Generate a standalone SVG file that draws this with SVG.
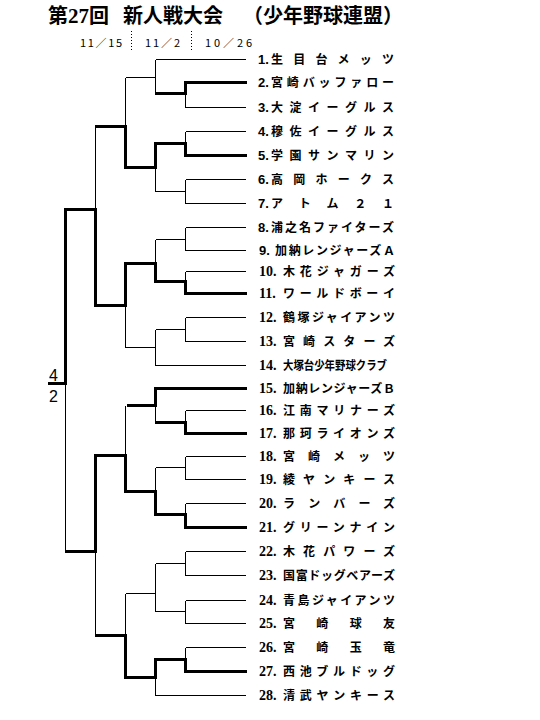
<svg xmlns="http://www.w3.org/2000/svg" width="540" height="720" viewBox="0 0 540 720">
<style>
.thin{fill:none;stroke:#000;stroke-width:1;shape-rendering:crispEdges}
.thick{fill:none;stroke:#000;stroke-width:3;stroke-linecap:square;shape-rendering:crispEdges}
.dot{fill:none;stroke:#000;stroke-width:1;stroke-dasharray:1 2;shape-rendering:crispEdges}
.title{font-family:"Noto Sans CJK JP",sans-serif;font-size:20px;font-weight:bold;fill:#000}
.date{font-family:"Noto Sans CJK JP",sans-serif;font-size:11px;fill:#000}
.n1{font-family:"Liberation Sans",sans-serif;font-size:13px;font-weight:bold;fill:#000}
.n2{font-family:"Liberation Serif",serif;font-size:14px;font-weight:bold;fill:#000}
.nm{font-family:"Noto Sans CJK JP",sans-serif;font-size:12px;font-weight:bold;fill:#000}
.score{font-family:"Liberation Sans",sans-serif;font-size:16px;fill:#000}
</style>
<rect width="540" height="720" fill="#fff"/>
<g id="title">
<text class="title" y="23"><tspan x="48">第</tspan><tspan font-family="Liberation Serif" font-size="21">27</tspan><tspan>回</tspan><tspan x="123">新人戦大会</tspan><tspan x="243">（少年野球連盟）</tspan></text>
</g>
<g id="dates">
<text class="date" x="80" y="47" textLength="42">11／15</text>
<text class="date" x="145" y="47" textLength="35">11／2</text>
<text class="date" x="205" y="47" textLength="47">10／26</text>
<path class="dot" d="M131.5 31V51M191.5 31V51"/>
</g>
<g id="connectors">
<path class="thin" d="M155.5 59.5H246M185.5 107.5H246M185.5 93.5V107.5M155.5 59.5V93.5M125.5 77.5H155.5M125.5 77.5V126.5
M185.5 131.5H246M185.5 131.5V143.5M155.5 167.5V191.5M155.5 191.5H185.5M185.5 179.5H246M185.5 203.5H246M185.5 179.5V203.5
M95.5 126.5V209.5
M185.5 227.5H246M185.5 250.5H246M185.5 227.5V250.5M155.5 239.5H185.5M155.5 239.5V263.5M185.5 271.5H246M185.5 271.5V281.5
M125.5 305.5V347.5M125.5 347.5H155.5M155.5 329.5V365.5M155.5 329.5H185.5M185.5 317.5H246M185.5 341.5H246M185.5 317.5V341.5M155.5 365.5H246
M65.5 383.5V551.5
M155.5 405.5V422.5M185.5 410.5V422.5M185.5 410.5H246M125.5 405.5V455.5M155.5 467.5H185.5M155.5 467.5V491.5M185.5 456.5H246M185.5 479.5H246M185.5 456.5V479.5M185.5 503.5H246M185.5 503.5V514.5
M95.5 551.5V635.5
M185.5 551.5H246M185.5 575.5H246M185.5 551.5V575.5M155.5 563.5H185.5M155.5 563.5V611.5M125.5 593.5H155.5M155.5 611.5H185.5M185.5 600.5H246M185.5 623.5H246M185.5 600.5V623.5M125.5 593.5V635.5M155.5 677.5V695.5M185.5 647.5H246M185.5 647.5V659.5M155.5 695.5H246"/>
<path class="thick" d="M245 82.5H185.5V93.5H156.5"/>
<path class="thick" d="M245 155.5H185.5V143.5H155.5V167.5H125.5V126.5H96.5"/>
<path class="thick" d="M245 293.5H185.5V281.5H155.5V263.5H125.5V305.5H95.5V209.5H65.5V383.5H49"/>
<path class="thick" d="M245 388.5H155.5V405.5H128"/>
<path class="thick" d="M245 433.5H185.5V422.5H156.5"/>
<path class="thick" d="M245 527.5H185.5V514.5H155.5V491.5H125.5V455.5H95.5V551.5H66.5"/>
<path class="thick" d="M245 671.5H185.5V659.5H155.5V677.5H125.5V635.5H96.5"/>
</g>
<g id="score">
<text class="score" x="49" y="381">4</text>
<text class="score" x="49" y="402">2</text>
</g>
<g id="team1"><text class="n1" x="258" y="64">1.</text><text class="nm" x="271" y="64" textLength="123">生目台メッツ</text></g>
<g id="team2"><text class="n1" x="258" y="87">2.</text><text class="nm" x="271" y="87" textLength="123">宮崎バッファロー</text></g>
<g id="team3"><text class="n1" x="258" y="112">3.</text><text class="nm" x="271" y="112" textLength="123">大淀イーグルス</text></g>
<g id="team4"><text class="n1" x="258" y="136">4.</text><text class="nm" x="271" y="136" textLength="123">穆佐イーグルス</text></g>
<g id="team5"><text class="n1" x="258" y="160">5.</text><text class="nm" x="271" y="160" textLength="123">学園サンマリン</text></g>
<g id="team6"><text class="n1" x="258" y="184">6.</text><text class="nm" x="271" y="184" textLength="123">高岡ホークス</text></g>
<g id="team7"><text class="n1" x="258" y="208">7.</text><text class="nm" x="271" y="208" textLength="123">アトム２１</text></g>
<g id="team8"><text class="n1" x="258" y="232">8.</text><text class="nm" x="271" y="232" textLength="123">浦之名ファイターズ</text></g>
<g id="team9"><text class="n1" x="259" y="255">9.</text><text class="nm" x="275" y="255" textLength="120">加納レンジャーズＡ</text></g>
<g id="team10"><text class="n2" x="259" y="276">10.</text><text class="nm" x="283" y="276" textLength="112">木花ジャガーズ</text></g>
<g id="team11"><text class="n2" x="259" y="298">11.</text><text class="nm" x="283" y="298" textLength="112">ワールドボーイ</text></g>
<g id="team12"><text class="n2" x="259" y="322">12.</text><text class="nm" x="283" y="322" textLength="112">鶴塚ジャイアンツ</text></g>
<g id="team13"><text class="n2" x="259" y="346">13.</text><text class="nm" x="283" y="346" textLength="112">宮崎スターズ</text></g>
<g id="team14"><text class="n2" x="259" y="370">14.</text><text class="nm" x="283" y="370" textLength="104" lengthAdjust="spacingAndGlyphs">大塚台少年野球クラブ</text></g>
<g id="team15"><text class="n2" x="259" y="393">15.</text><text class="nm" x="283" y="393" textLength="112">加納レンジャーズＢ</text></g>
<g id="team16"><text class="n2" x="259" y="415">16.</text><text class="nm" x="283" y="415" textLength="112">江南マリナーズ</text></g>
<g id="team17"><text class="n2" x="259" y="438">17.</text><text class="nm" x="283" y="438" textLength="112">那珂ライオンズ</text></g>
<g id="team18"><text class="n2" x="259" y="461">18.</text><text class="nm" x="283" y="461" textLength="112">宮崎メッツ</text></g>
<g id="team19"><text class="n2" x="259" y="484">19.</text><text class="nm" x="283" y="484" textLength="112">綾ヤンキース</text></g>
<g id="team20"><text class="n2" x="259" y="508">20.</text><text class="nm" x="283" y="508" textLength="112">ランバーズ</text></g>
<g id="team21"><text class="n2" x="259" y="532">21.</text><text class="nm" x="283" y="532" textLength="112">グリーンナイン</text></g>
<g id="team22"><text class="n2" x="259" y="556">22.</text><text class="nm" x="283" y="556" textLength="112">木花パワーズ</text></g>
<g id="team23"><text class="n2" x="259" y="580">23.</text><text class="nm" x="283" y="580" textLength="112">国富ドッグベアーズ</text></g>
<g id="team24"><text class="n2" x="259" y="605">24.</text><text class="nm" x="283" y="605" textLength="112">青島ジャイアンツ</text></g>
<g id="team25"><text class="n2" x="259" y="628">25.</text><text class="nm" x="283" y="628" textLength="112">宮崎球友</text></g>
<g id="team26"><text class="n2" x="259" y="652">26.</text><text class="nm" x="283" y="652" textLength="112">宮崎玉竜</text></g>
<g id="team27"><text class="n2" x="259" y="676">27.</text><text class="nm" x="283" y="676" textLength="112">西池ブルドッグ</text></g>
<g id="team28"><text class="n2" x="259" y="700">28.</text><text class="nm" x="283" y="700" textLength="112">清武ヤンキース</text></g>
</svg>
